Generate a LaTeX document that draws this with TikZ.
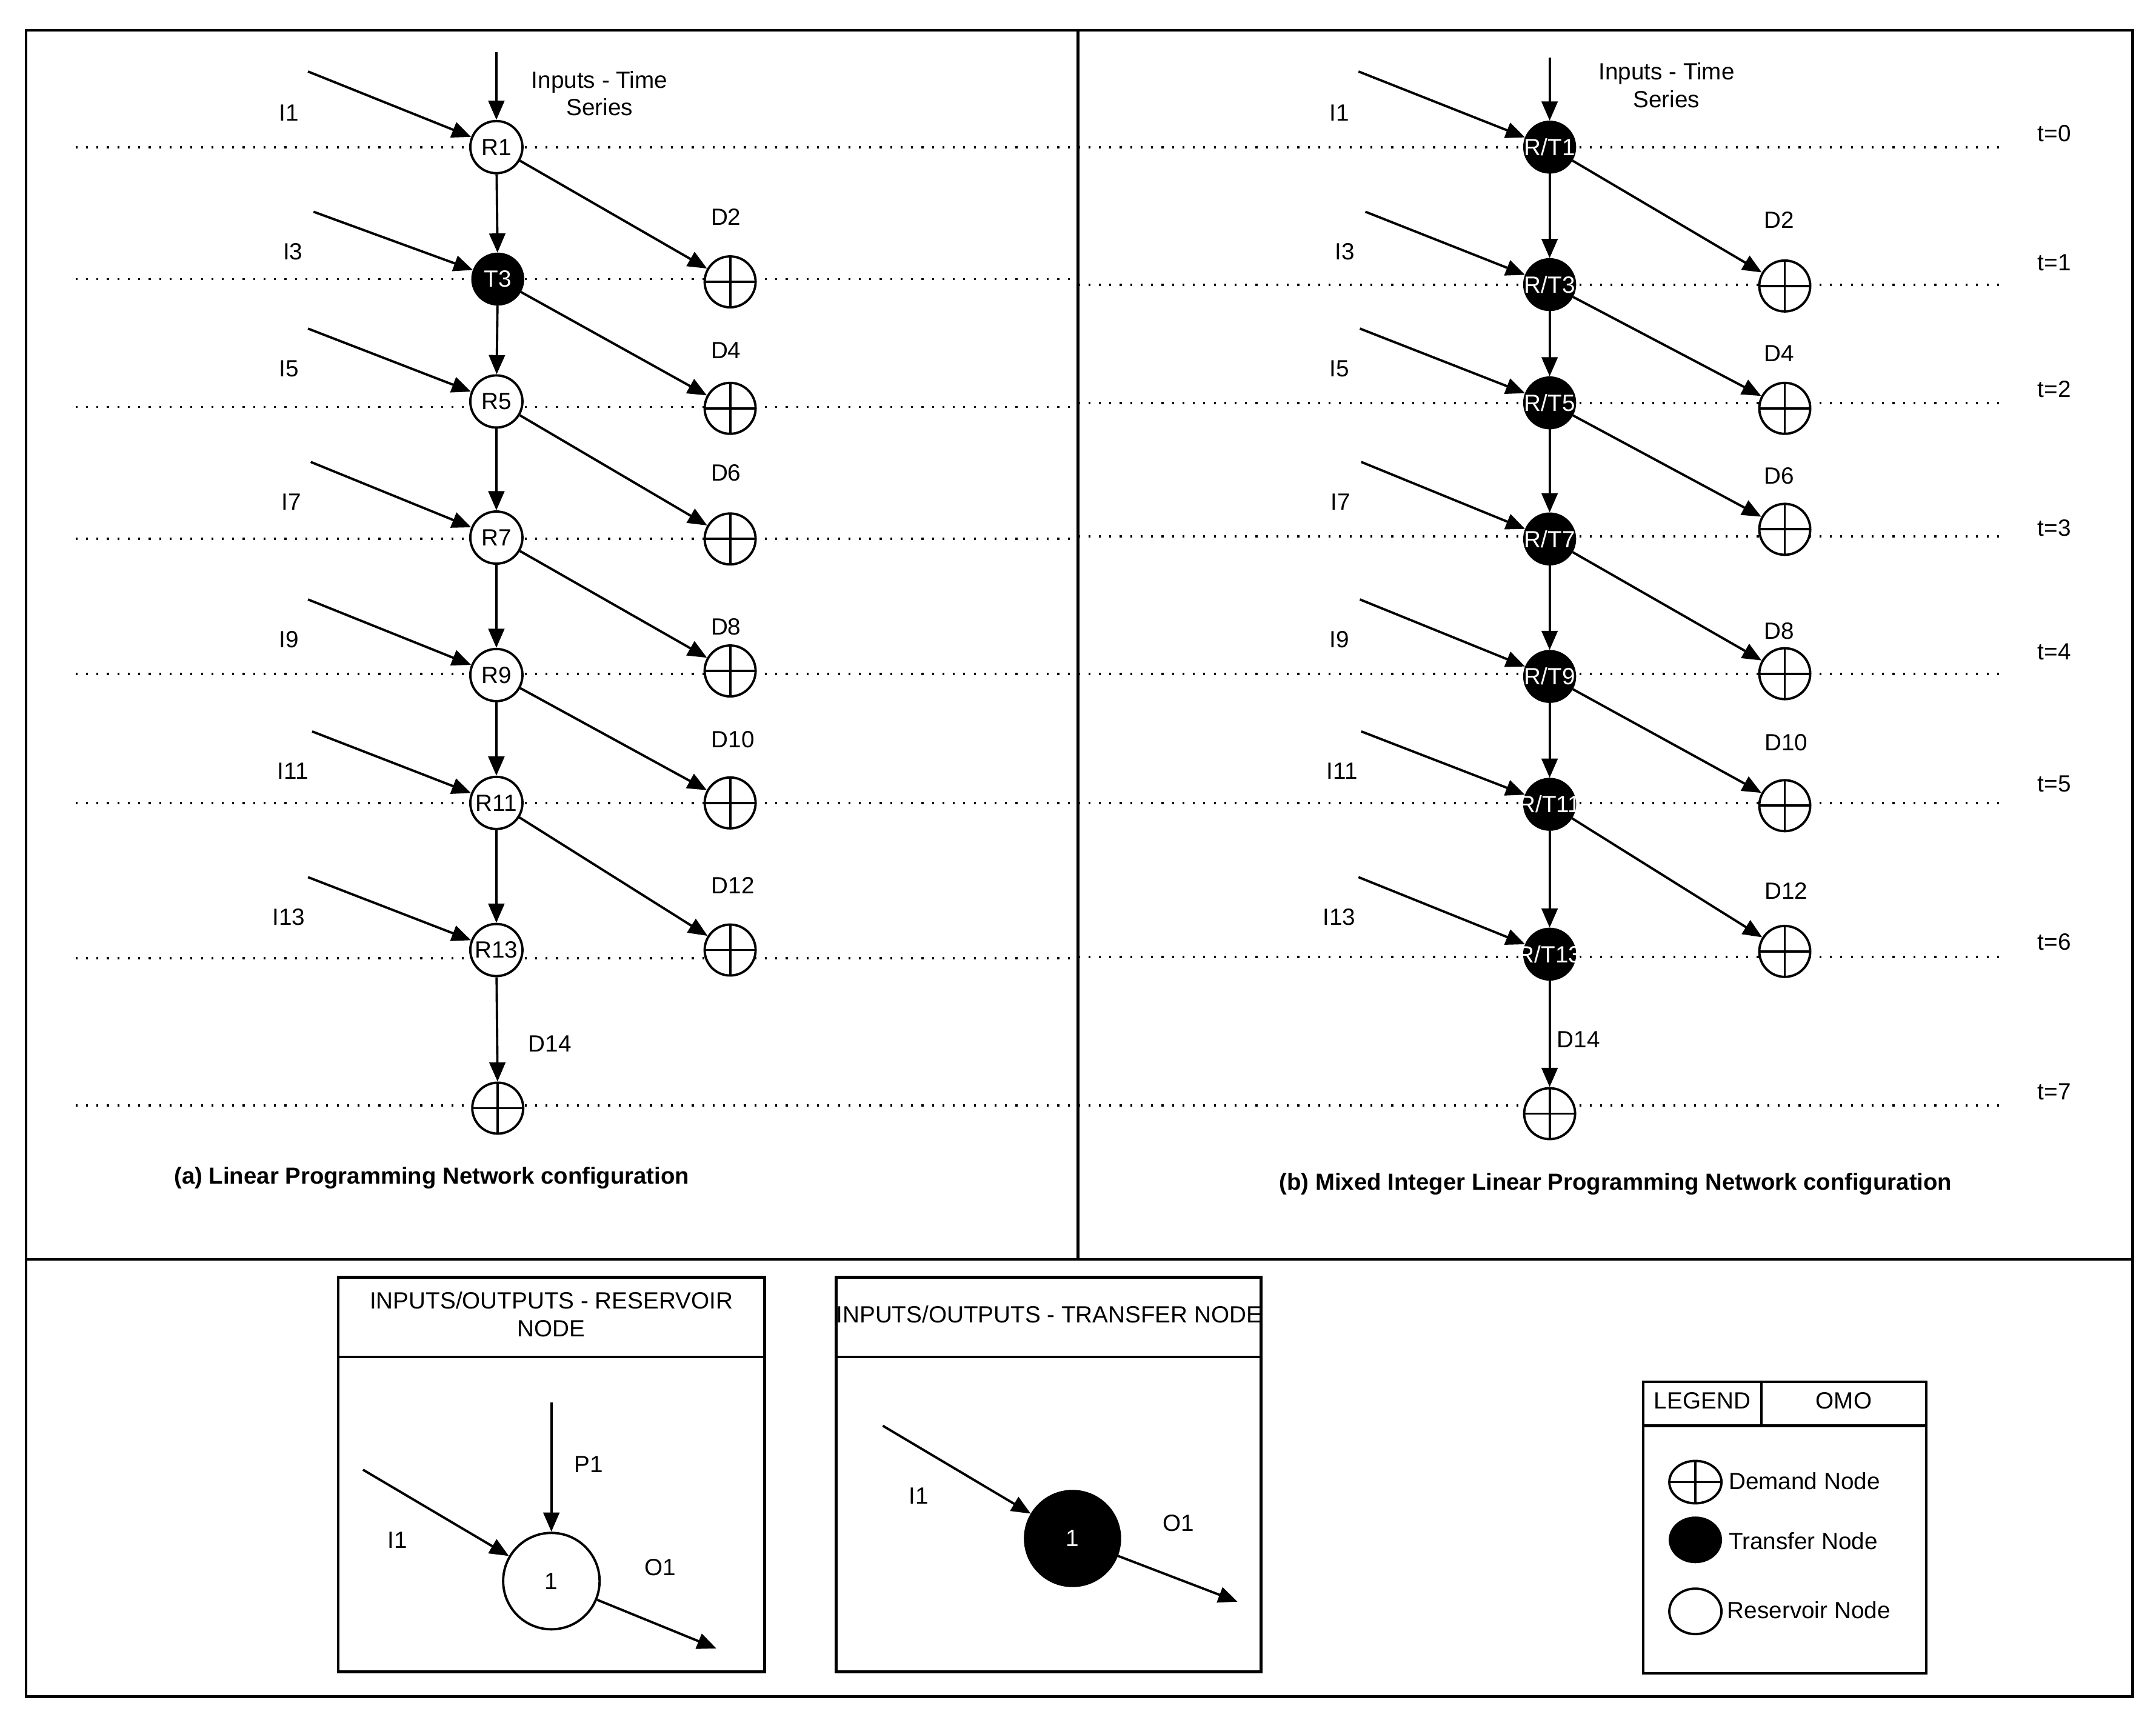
\documentclass[tikz,border=0pt]{standalone}
\usepackage{fontspec}
\setmainfont{Liberation Sans}
\usetikzlibrary{arrows.meta,shapes.geometric}
\newcommand{\ovtext}[1]{\makebox[0pt][c]{#1}}
\begin{document}
\begin{tikzpicture}[x=0.02268cm, y=-0.02268cm,
  every node/.style={font=\fontsize{11}{13}\selectfont},
  arr/.style={-{Triangle[length=9pt,width=7.5pt]}, line width=1.1pt},
  dotline/.style={line width=1.1pt, dash pattern=on 0.9pt off 4pt},
  frame/.style={line width=1.3pt},
  resnode/.style={circle, draw, line width=1.1pt, fill=white, minimum size=0.86cm, inner sep=0pt},
  tranode/.style={circle, draw=black, fill=black, text=white, minimum size=0.86cm, inner sep=0pt},
  cross/.style={path picture={\draw[line width=1.1pt] (path picture bounding box.north) -- (path picture bounding box.south) (path picture bounding box.west) -- (path picture bounding box.east);}},
  demnode/.style={circle, draw, line width=1.1pt, fill=white, minimum size=0.84cm, inner sep=0pt, cross},
  lbl/.style={inner sep=0pt},
  capt/.style={inner sep=0pt, font=\fontsize{10.9}{12}\selectfont\bfseries}
]
\useasboundingbox (0,0) rectangle (1568,1251);

% frames
\draw[frame] (19,22) rectangle (1551,1234);
\draw[frame] (784,22) -- (784,916);
\draw[frame] (19,916) -- (1551,916);

% dotted time lines
\foreach \y in {107,203,296,392,490,584,697,804} \draw[dotline] (55,\y) -- (784,\y);
\foreach \y in {107,207,293,390,490,584,696,804} \draw[dotline] (784,\y) -- (1456,\y);

% ---------- left panel ----------
\node[resnode] (L1) at (361,107) {R1};
\node[tranode] (L3) at (362,203) {T3};
\node[resnode] (L5) at (361,292) {R5};
\node[resnode] (L7) at (361,391) {R7};
\node[resnode] (L9) at (361,491) {R9};
\node[resnode] (L11) at (361,584) {\ovtext{R11}};
\node[resnode] (L13) at (361,691) {\ovtext{R13}};
\node[demnode] (LD14) at (362,806) {};
\node[demnode] (LD2) at (531,205) {};
\node[demnode] (LD4) at (531,297) {};
\node[demnode] (LD6) at (531,392) {};
\node[demnode] (LD8) at (531,488) {};
\node[demnode] (LD10) at (531,584) {};
\node[demnode] (LD12) at (531,691) {};

\node[lbl] (lD2) at (528,158) {D2};
\node[lbl] (lD4) at (528,255) {D4};
\node[lbl] (lD6) at (528,344) {D6};
\node[lbl] (lD8) at (528,456) {D8};
\node[lbl] (lD10) at (533,538) {D10};
\node[lbl] (lD12) at (533,644) {D12};
\node[lbl] (lD14) at (400,759) {D14};

\node[lbl] (lI1) at (210,82) {I1};
\node[lbl] (lI3) at (213,183) {I3};
\node[lbl] (lI5) at (210,268) {I5};
\node[lbl] (lI7) at (212,365) {I7};
\node[lbl] (lI9) at (210,465) {I9};
\node[lbl] (lI11) at (213,561) {I11};
\node[lbl] (lI13) at (210,667) {I13};

\coordinate (LS1) at (224,52);
\coordinate (LS3) at (228,154);
\coordinate (LS5) at (224,239);
\coordinate (LS7) at (226,336);
\coordinate (LS9) at (224,436);
\coordinate (LS11) at (227,532);
\coordinate (LS13) at (224,638);
\coordinate (LTop) at (361,38);
\node[lbl, align=center] (Linp) at (436,68) {Inputs - Time\\Series};

\draw[arr] (LTop) -- (L1);
\foreach \k in {1,3,5,7,9,11,13} \draw[arr] (LS\k) -- (L\k);
\draw[arr] (L1) -- (L3);
\draw[arr] (L3) -- (L5);
\draw[arr] (L5) -- (L7);
\draw[arr] (L7) -- (L9);
\draw[arr] (L9) -- (L11);
\draw[arr] (L11) -- (L13);
\draw[arr] (L13) -- (LD14);
\draw[arr] (L1) -- (LD2);
\draw[arr] (L3) -- (LD4);
\draw[arr] (L5) -- (LD6);
\draw[arr] (L7) -- (LD8);
\draw[arr] (L9) -- (LD10);
\draw[arr] (L11) -- (LD12);

\node[capt] (capa) at (314,857) {(a) Linear Programming Network configuration};

% ---------- right panel ----------
\node[tranode] (R1) at (1127,107) {\ovtext{R/T1}};
\node[tranode] (R3) at (1127,207) {\ovtext{R/T3}};
\node[tranode] (R5) at (1127,293) {\ovtext{R/T5}};
\node[tranode] (R7) at (1127,392) {\ovtext{R/T7}};
\node[tranode] (R9) at (1127,492) {\ovtext{R/T9}};
\node[tranode] (R11) at (1127,585) {\ovtext{R/T11}};
\node[tranode] (R13) at (1127,694) {\ovtext{R/T13}};
\node[demnode] (RD14) at (1127,810) {};
\node[demnode] (RD2) at (1298,208) {};
\node[demnode] (RD4) at (1298,297) {};
\node[demnode] (RD6) at (1298,385) {};
\node[demnode] (RD8) at (1298,490) {};
\node[demnode] (RD10) at (1298,586) {};
\node[demnode] (RD12) at (1298,692) {};

\node[lbl] (rD2) at (1294,160) {D2};
\node[lbl] (rD4) at (1294,257) {D4};
\node[lbl] (rD6) at (1294,346) {D6};
\node[lbl] (rD8) at (1294,459) {D8};
\node[lbl] (rD10) at (1299,540) {D10};
\node[lbl] (rD12) at (1299,648) {D12};
\node[lbl] (rD14) at (1148,756) {D14};

\node[lbl] (rI1) at (974,82) {I1};
\node[lbl] (rI3) at (978,183) {I3};
\node[lbl] (rI5) at (974,268) {I5};
\node[lbl] (rI7) at (975,365) {I7};
\node[lbl] (rI9) at (974,465) {I9};
\node[lbl] (rI11) at (976,561) {I11};
\node[lbl] (rI13) at (974,667) {I13};

\coordinate (RS1) at (988,52);
\coordinate (RS3) at (993,154);
\coordinate (RS5) at (989,239);
\coordinate (RS7) at (990,336);
\coordinate (RS9) at (989,436);
\coordinate (RS11) at (990,532);
\coordinate (RS13) at (988,638);
\coordinate (RTop) at (1127,42);
\node[lbl, align=center] (Rinp) at (1212,62) {Inputs - Time\\Series};

\node[lbl] (t0) at (1494,97) {t=0};
\node[lbl] (t1) at (1494,191) {t=1};
\node[lbl] (t2) at (1494,283) {t=2};
\node[lbl] (t3) at (1494,384) {t=3};
\node[lbl] (t4) at (1494,474) {t=4};
\node[lbl] (t5) at (1494,570) {t=5};
\node[lbl] (t6) at (1494,685) {t=6};
\node[lbl] (t7) at (1494,794) {t=7};

\draw[arr] (RTop) -- (R1);
\foreach \k in {1,3,5,7,9,11,13} \draw[arr] (RS\k) -- (R\k);
\draw[arr] (R1) -- (R3);
\draw[arr] (R3) -- (R5);
\draw[arr] (R5) -- (R7);
\draw[arr] (R7) -- (R9);
\draw[arr] (R9) -- (R11);
\draw[arr] (R11) -- (R13);
\draw[arr] (R13) -- (RD14);
\draw[arr] (R1) -- (RD2);
\draw[arr] (R3) -- (RD4);
\draw[arr] (R5) -- (RD6);
\draw[arr] (R7) -- (RD8);
\draw[arr] (R9) -- (RD10);
\draw[arr] (R11) -- (RD12);

\node[capt] (capb) at (1175,861) {(b) Mixed Integer Linear Programming Network configuration};

% ---------- bottom: reservoir box ----------
\draw[frame] (246,929) rectangle (556,1216);
\draw[frame] (246,987) -- (556,987);
\node[lbl, align=center] (h1) at (401,956) {INPUTS/OUTPUTS - RESERVOIR\\NODE};
\node[resnode, minimum size=1.59cm] (B1) at (401,1150) {1};
\coordinate (B1P) at (401,1020);
\coordinate (B1I) at (264,1069);
\coordinate (B1O) at (521,1199);
\draw[arr] (B1P) -- (B1);
\draw[arr] (B1I) -- (B1);
\draw[arr] (B1) -- (B1O);
\node[lbl] (b1p) at (428,1065) {P1};
\node[lbl] (b1i) at (289,1120) {I1};
\node[lbl] (b1o) at (480,1140) {O1};

% ---------- bottom: transfer box ----------
\draw[frame] (608,929) rectangle (917,1216);
\draw[frame] (608,987) -- (917,987);
\node[lbl] (h2) at (763,956) {INPUTS/OUTPUTS - TRANSFER NODE};
\node[tranode, minimum size=1.59cm] (B2) at (780,1119) {1};
\coordinate (B2I) at (642,1037);
\coordinate (B2O) at (900,1165);
\draw[arr] (B2I) -- (B2);
\draw[arr] (B2) -- (B2O);
\node[lbl] (b2i) at (668,1088) {I1};
\node[lbl] (b2o) at (857,1108) {O1};

% ---------- legend ----------
\draw[frame] (1195,1005) rectangle (1401,1217);
\draw[frame] (1195,1037) -- (1401,1037);
\draw[frame] (1281,1005) -- (1281,1037);
\node[lbl] (lgL) at (1238,1019) {LEGEND};
\node[lbl] (lgO) at (1341,1019) {OMO};
\node[ellipse, draw, line width=1.1pt, minimum width=0.86cm, minimum height=0.7cm, inner sep=0pt, cross] (eD) at (1233,1078) {};
\node[ellipse, fill=black, minimum width=0.88cm, minimum height=0.77cm, inner sep=0pt] (eT) at (1233,1120) {};
\node[ellipse, draw, line width=1.1pt, minimum width=0.86cm, minimum height=0.75cm, inner sep=0pt] (eR) at (1233,1172) {};
\node[lbl, anchor=west] (tD) at (1257,1077) {Demand Node};
\node[lbl, anchor=west] (tT) at (1257,1121) {Transfer Node};
\node[lbl, anchor=west] (tR) at (1256,1171) {Reservoir Node};
\end{tikzpicture}
\end{document}
